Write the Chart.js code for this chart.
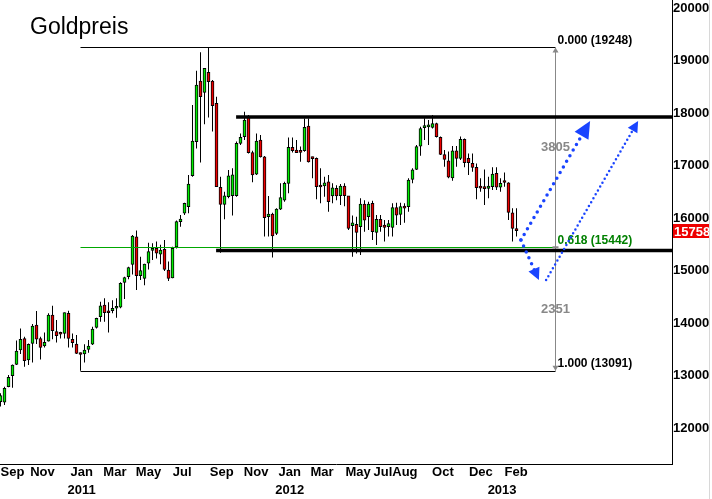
<!DOCTYPE html>
<html>
<head>
<meta charset="utf-8">
<script src="https://cdn.jsdelivr.net/npm/chart.js@4.4.1/dist/chart.umd.min.js"></script>
<style>
  html, body { margin: 0; padding: 0; background: #fff; }
  #wrap { width: 712px; height: 499px; position: relative; }
</style>
</head>
<body>
<div id="wrap"><canvas id="graficaGold"></canvas></div>
<script>
// Wochenkerzen Gold (ab KW 16.08.2010)
const open  = [12500,12490,12785,12995,13210,13485,13705,13295,13610,13960,13705,13565,13655,14150,13835,13800,13800,14185,13690,13600,
               13420,13410,13495,13595,13915,14120,14340,14200,14235,14280,14300,14775,14880,15115,15640,14900,14850,15140,15380,15420,
               15310,15405,15010,14860,15450,15930,16090,16215,16805,17455,18610,18390,18775,18610,18185,16585,16260,16405,16425,16425,
               17420,17550,17915,17245,16835,17485,17165,16025,16075,15705,16170,16340,16660,17345,17295,17255,17280,17750,17135,17135,
               16595,16610,16690,16420,16565,16425,16610,16420,15855,15880,15835,16265,16025,16280,15725,15975,15865,15835,15820,16200,
               16070,16225,16215,16735,16925,17370,17720,17735,17725,17800,17535,17210,17090,16765,17280,17135,17500,17135,17040,16965,
               16575,16565,16565,16595,16850,16585,16680,16670,16100,15780];
const high  = [12660,12785,13010,13210,13665,13895,13740,13610,13980,14230,13740,13820,14185,14330,14055,13835,14200,14235,13800,13770,
               13440,13595,13675,13930,14100,14405,14470,14395,14435,14470,14775,14880,15070,15675,15760,15260,15130,15530,15520,15550,
               15490,15580,15170,15450,15950,16055,16290,16820,18150,18805,19155,18850,19248,18630,18310,16785,16500,16915,16945,17455,
               17610,18025,17960,17280,17610,17580,17180,16420,16100,16185,16660,16690,17535,17535,17485,17360,17895,17895,17165,17150,
               16945,16785,16820,16660,16625,16645,16660,16420,16045,16025,16375,16340,16310,16330,16055,16055,15960,15960,16280,16290,
               16290,16280,16755,16945,17390,17740,17900,17865,17960,17815,17550,17295,17265,17370,17370,17550,17515,17230,17230,17040,
               16755,16925,16785,16965,16965,16755,16865,16680,16185,16185];
const low   = [12410,12440,12775,12765,13200,13410,13165,13200,13245,13600,13305,13535,13645,13690,13630,13705,13705,13535,13535,13410,
               13091,13245,13435,13580,13895,14025,14025,13820,14185,14100,14280,14455,14835,14925,14630,14820,14720,15020,15200,15230,
               15120,14990,14800,14850,15420,15835,16055,16090,16785,17325,17055,17785,17915,17645,16595,15340,15975,16375,16045,16405,
               17390,17485,17230,16680,16820,17150,15645,15645,15245,15675,16150,16310,16470,17245,17245,17070,17260,17055,16755,16355,
               16280,16405,16120,16280,16340,16245,16225,15770,15260,15325,15295,15740,15770,15580,15485,15740,15550,15645,15645,15865,
               15865,15910,16120,16660,16915,17185,17485,17390,17705,17535,17200,16975,16755,16710,16975,17105,16965,16820,16880,16355,
               16500,16245,16375,16535,16535,16500,16595,15960,15550,15645];
const close = [12615,12755,12965,13200,13465,13690,13280,13595,13940,13690,13535,13630,14150,13855,13760,13785,14200,13705,13625,13420,
               13400,13485,13560,13885,14090,14325,14195,14195,14280,14310,14755,14865,15055,15655,14900,15000,15120,15360,15420,15330,
               15390,15020,14850,15420,15930,15980,16280,16645,17465,18530,18310,18850,18595,18140,16595,16260,16420,16805,16820,17420,
               17535,17865,17245,16820,17465,17165,16005,16075,15660,16170,16390,16660,17345,17280,17245,17250,17725,17070,17130,16595,
               16590,16670,16310,16575,16420,16610,16425,15800,15910,15725,16265,15960,16265,15740,15975,15835,15820,15895,16200,16055,
               16215,16185,16720,16915,17360,17705,17725,17740,17800,17550,17210,17115,16775,17280,17135,17500,17055,17055,16965,16575,
               16570,16560,16610,16835,16585,16660,16675,16105,15800,15758];

// Achsen
const yTicks = [12000, 13000, 14000, 15000, 16000, 17000, 18000, 19000, 20000];
const tickWeeks = [3, 10.5, 20.3, 28.6, 37, 45.4, 55.3, 63.9, 72.3, 80.4, 89.4, 95.6, 101.1, 110.6, 120.1, 125.4, 128.9];
const tickLabels = ['Sep', 'Nov', ['Jan', '2011'], 'Mar', 'May', 'Jul', 'Sep', 'Nov', ['Jan', '2012'], 'Mar', 'May', 'Jul', 'Aug', 'Oct', 'Dec', ['', '2013'], 'Feb'];

// Fibonacci-Retracement 13091 -> 19248
const fibLevels = [19248, 15442, 13091];
const fibNames = ['0.000 (19248)', '0.618 (15442)', '1.000 (13091)'];
const fibFrom = 20, fibTo = 138.6;

// Unterstützung / Widerstand
const srLevels = [17924, 15380];
const srFrom = [58.9, 53.9];

// Prognose-Pfeile [Woche, Kurs]
const arrowUp   = [[130.1, 15580], [147.4, 17847]];
const arrowDown = [[130.1, 15580], [134.6, 14818]];
const arrowAlt  = [[136.4, 14818], [159.4, 17847]];

const lastPrice = 15758;

const bodies = open.map((o, i) => ({ x: i, y: [o, close[i]] }));
const wicks = low.map((l, i) => ({ x: i, y: [l, high[i]] }));
const bodyColors = close.map((c, i) => c >= open[i] ? '#00ee00' : '#ee0000');

const FONT = '"Liberation Sans", Arial, sans-serif';

function dotted(ctx, a, b, w, gap) {
    ctx.save();
    ctx.strokeStyle = '#1a44ff';
    ctx.lineWidth = w;
    ctx.lineCap = 'round';
    ctx.setLineDash([0, gap]);
    ctx.beginPath();
    ctx.moveTo(a[0], a[1]);
    ctx.lineTo(b[0], b[1]);
    ctx.stroke();
    ctx.restore();
}

function head(ctx, from, tip, len, half) {
    const dx = tip[0] - from[0], dy = tip[1] - from[1];
    const d = Math.hypot(dx, dy), ux = dx / d, uy = dy / d;
    const bx = tip[0] - ux * len, by = tip[1] - uy * len;
    ctx.fillStyle = '#1a44ff';
    ctx.beginPath();
    ctx.moveTo(tip[0], tip[1]);
    ctx.lineTo(bx - uy * half, by + ux * half);
    ctx.lineTo(bx + uy * half, by - ux * half);
    ctx.closePath();
    ctx.fill();
}

const overlay = {
    id: 'overlay',
    afterDatasetsDraw(chart) {
        const { ctx, scales: { x, y }, chartArea } = chart;
        const P = p => [x.getPixelForValue(p[0]), y.getPixelForValue(p[1])];
        ctx.save();

        // Fibonacci
        const fx0 = x.getPixelForValue(fibFrom), fx1 = Math.round(x.getPixelForValue(fibTo)) + 0.5;
        fibLevels.forEach((lv, k) => {
            const yy = Math.round(y.getPixelForValue(lv)) + 0.5;
            ctx.strokeStyle = k === 1 ? '#00a800' : '#000';
            ctx.lineWidth = 1;
            ctx.beginPath();
            ctx.moveTo(fx0, yy);
            ctx.lineTo(fx1, yy);
            ctx.stroke();
        });
        const yTop = y.getPixelForValue(fibLevels[0]), yMid = y.getPixelForValue(fibLevels[1]), yBot = y.getPixelForValue(fibLevels[2]);
        ctx.strokeStyle = '#888';
        ctx.beginPath();
        ctx.moveTo(fx1, yTop);
        ctx.lineTo(fx1, yBot);
        ctx.stroke();
        ctx.fillStyle = '#888';
        [[yTop, -1], [yBot, 1]].forEach(([yy, s]) => {
            ctx.beginPath();
            ctx.moveTo(fx1, yy);
            ctx.lineTo(fx1 - 3, yy - s * 5);
            ctx.lineTo(fx1 + 3, yy - s * 5);
            ctx.closePath();
            ctx.fill();
        });
        ctx.fillRect(fx1 - 3, yMid - 1, 6, 2);

        // Unterstützung / Widerstand
        srLevels.forEach((lv, k) => {
            const yy = y.getPixelForValue(lv);
            ctx.strokeStyle = '#000';
            ctx.lineWidth = 3.5;
            ctx.beginPath();
            ctx.moveTo(x.getPixelForValue(srFrom[k]), yy);
            ctx.lineTo(chartArea.right, yy);
            ctx.stroke();
        });

        // Fib-Beschriftung
        ctx.font = 'bold 12px ' + FONT;
        ctx.textBaseline = 'middle';
        ctx.textAlign = 'left';
        fibNames.forEach((t, k) => {
            ctx.fillStyle = k === 1 ? '#008000' : '#000';
            ctx.fillText(t, fx1 + 2, y.getPixelForValue(fibLevels[k]) - 7);
        });
        ctx.fillStyle = '#888';
        ctx.textAlign = 'center';
        ctx.font = 'bold 13px ' + FONT;
        ctx.fillText(String(fibLevels[0] - fibLevels[1] - 1), fx1, (yTop + yMid) / 2);
        ctx.fillText(String(fibLevels[1] - fibLevels[2]), fx1, (yMid + yBot) / 2);

        // Pfeile
        const a0 = P(arrowUp[0]), a1 = P(arrowUp[1]);
        const d1 = P(arrowDown[1]);
        const c0 = P(arrowAlt[0]), c1 = P(arrowAlt[1]);
        const cut = (p, q, n) => {
            const dx = q[0] - p[0], dy = q[1] - p[1], d = Math.hypot(dx, dy);
            return [q[0] - dx / d * n, q[1] - dy / d * n];
        };
        dotted(ctx, a0, cut(a0, a1, 14), 3.5, 6.5);
        head(ctx, a0, a1, 17, 8);
        dotted(ctx, a0, cut(a0, d1, 10), 3.5, 6.5);
        head(ctx, a0, d1, 12, 6);
        dotted(ctx, c0, cut(c0, c1, 8), 2.5, 4.5);
        head(ctx, c0, c1, 11, 5.5);

        ctx.restore();
    },
    afterDraw(chart) {
        const { ctx, scales: { y }, chartArea } = chart;
        ctx.save();
        ctx.fillStyle = '#000';
        ctx.font = '23px ' + FONT;
        ctx.textBaseline = 'alphabetic';
        ctx.fillText('Goldpreis', 30, 34);

        const yy = Math.round(y.getPixelForValue(lastPrice));
        ctx.fillStyle = '#ee0000';
        ctx.fillRect(chartArea.right + 1, yy - 7, 36, 14);
        ctx.fillStyle = '#fff';
        ctx.font = 'bold 13px ' + FONT;
        ctx.textBaseline = 'middle';
        ctx.fillText(String(lastPrice), chartArea.right + 2, yy + 1);

        ctx.strokeStyle = '#d8d8d8';
        ctx.lineWidth = 1;
        ctx.beginPath();
        ctx.moveTo(709.5, 0);
        ctx.lineTo(709.5, 499);
        ctx.stroke();
        ctx.restore();
    }
};

const ctxGold = document.getElementById('graficaGold').getContext('2d');
const graficaGold = new Chart(ctxGold, {
    type: 'bar',
    data: {
        datasets: [{
            label: 'Körper',
            data: bodies,
            grouped: false,
            barThickness: 3,
            minBarLength: 2,
            borderWidth: 1,
            borderColor: '#000',
            borderSkipped: false,
            backgroundColor: bodyColors,
            order: 0
        }, {
            label: 'Docht',
            data: wicks,
            grouped: false,
            barThickness: 1,
            borderWidth: 0,
            inflateAmount: 0,
            backgroundColor: '#000',
            order: 1
        }]
    },
    options: {
        responsive: true,
        maintainAspectRatio: false,
        animation: false,
        layout: { padding: 0 },
        plugins: {
            legend: { display: false },
            tooltip: { enabled: false },
            title: { display: false }
        },
        scales: {
            x: {
                type: 'linear',
                min: -0.125,
                max: 167.875,
                bounds: 'data',
                offset: false,
                grid: { display: false, drawTicks: false },
                border: { display: true, color: '#000', width: 1 },
                afterBuildTicks: s => { s.ticks = tickWeeks.map(v => ({ value: v })); },
                afterFit: s => { s.height = 35; s.paddingLeft = 0; s.paddingRight = 0; },
                ticks: {
                    autoSkip: false,
                    maxRotation: 0,
                    padding: 0,
                    color: '#000',
                    font: { family: '"Liberation Sans Narrow", "Arial Narrow", ' + FONT, size: 13, weight: 'bold', lineHeight: 1.35 },
                    callback: (v, i) => tickLabels[i]
                }
            },
            y: {
                position: 'right',
                min: 11314,
                max: 20152,
                bounds: 'data',
                grid: { display: false, drawTicks: false },
                border: { display: true, color: '#000', width: 1 },
                afterBuildTicks: s => { s.ticks = yTicks.map(v => ({ value: v })); },
                afterFit: s => { s.width = 40; s.paddingTop = 0; s.paddingBottom = 0; },
                ticks: {
                    padding: 1,
                    color: '#000',
                    font: { family: FONT, size: 13, weight: 'bold' },
                    callback: v => String(v)
                }
            }
        }
    },
    plugins: [overlay]
});
</script>
</body>
</html>
